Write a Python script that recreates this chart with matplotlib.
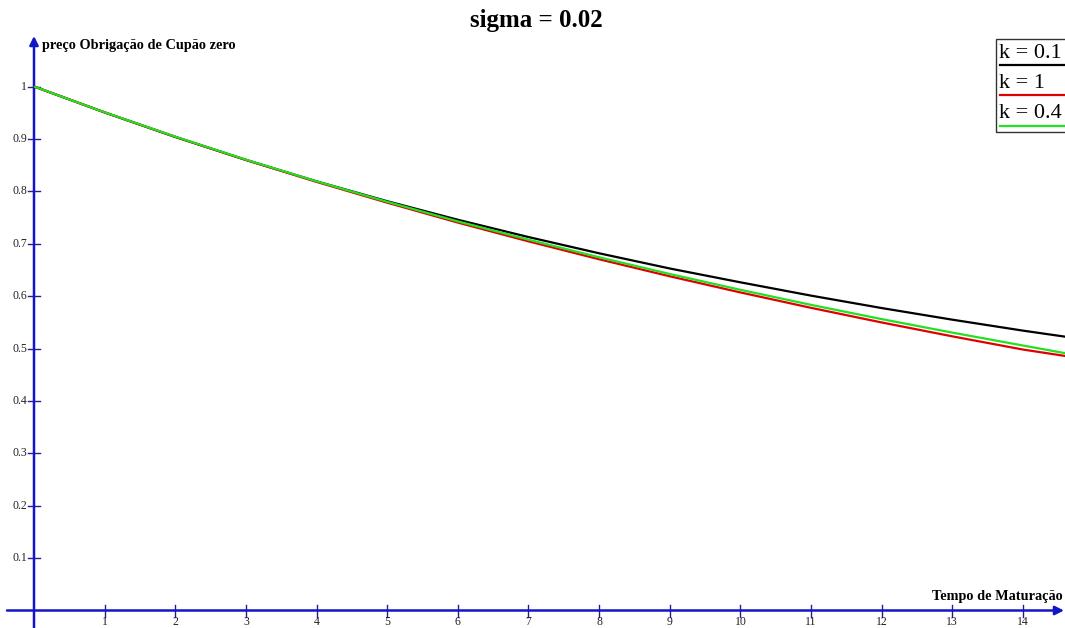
import matplotlib
matplotlib.use("Agg")
import matplotlib.pyplot as plt

# zero-coupon bond prices (Vasicek, sigma = 0.02) against maturity
maturity = [0, 1, 2, 3, 4, 5, 6, 7, 8, 9, 10, 11, 12, 13, 14, 14.6]
price_k01 = [1.0, 0.9505, 0.9037, 0.8599, 0.8190, 0.7811, 0.7457, 0.7127,
             0.6817, 0.6527, 0.6263, 0.6009, 0.5772, 0.5550, 0.5341, 0.5225]
price_k1 = [1.0, 0.9506, 0.9040, 0.8598, 0.8180, 0.7783, 0.7403, 0.7045,
            0.6703, 0.6378, 0.6070, 0.5776, 0.5497, 0.5232, 0.4980, 0.4857]
price_k04 = [1.0, 0.9507, 0.9043, 0.8604, 0.8191, 0.7800, 0.7426, 0.7077,
             0.6741, 0.6422, 0.6120, 0.5833, 0.5561, 0.5303, 0.5057, 0.4910]

series_labels = ["k = 0.1", "k = 1", "k = 0.4"]
series_colors = ["#000000", "#e00000", "#22e022"]

x_ticks = list(range(1, 15))
y_ticks = [0.1, 0.2, 0.3, 0.4, 0.5, 0.6, 0.7, 0.8, 0.9, 1]
y_tick_labels = ["0.1", "0.2", "0.3", "0.4", "0.5", "0.6", "0.7", "0.8", "0.9", "1"]

title = "sigma = 0.02"
x_label = "Tempo de Maturação"
y_label = "preço Obrigação de Cupão zero"

W, H = 1065, 628
X0, Y0 = 34.0, 610.5      # pixel position of the origin
SX, SY = 70.64, 524.0     # pixels per unit
BLUE = "#1515c8"
TICK = "#202090"

plt.rcParams["font.family"] = ["Liberation Serif", "DejaVu Serif"]

fig = plt.figure(figsize=(W / 100, H / 100), dpi=100)
ax = fig.add_axes([0, 0, 1, 1])
ax.set_xlim(-X0 / SX, (W - X0) / SX)
ax.set_ylim(-(H - Y0) / SY, Y0 / SY)
ax.axis("off")

# axes with arrow heads
ax.annotate("", xy=((W - 1 - X0) / SX, 0), xytext=(-27 / SX, 0),
            arrowprops=dict(arrowstyle="-|>", color=BLUE, lw=1.8,
                            mutation_scale=13, shrinkA=0, shrinkB=0))
ax.annotate("", xy=(0, (Y0 - 36) / SY), xytext=(0, -(H - Y0) / SY),
            arrowprops=dict(arrowstyle="-|>", color=BLUE, lw=1.8,
                            mutation_scale=13, shrinkA=0, shrinkB=0))

# tick marks and labels
th_x = 6 / SY
th_y = 6 / SX
for t in x_ticks:
    ax.plot([t, t], [-th_x, th_x], color=TICK, lw=1.0)
    ax.text(t, -11.5 / SY, str(t), ha="center", va="center", fontsize=8.5,
            color="#222222")
for v, lab in zip(y_ticks, y_tick_labels):
    ax.plot([-th_y, th_y], [v, v], color=TICK, lw=1.0)
    ax.text(-7 / SX, v, lab, ha="right", va="center", fontsize=8.5,
            color="#222222")

# curves
for prices, color, z in [(price_k01, series_colors[0], 3),
                         (price_k1, series_colors[1], 4),
                         (price_k04, series_colors[2], 5)]:
    ax.plot(maturity, prices, color=color, lw=1.6, zorder=z,
            solid_capstyle="butt")

ax.text(8 / SX, (Y0 - 46) / SY, y_label, ha="left", va="center",
        fontsize=10.3, fontweight="bold")
ax.text((W - 2 - X0) / SX, 14 / SY, x_label, ha="right", va="center",
        fontsize=10.3, fontweight="bold")

fig.text(536 / W, 1 - 21 / H, title, ha="center", va="center",
         fontsize=18, fontweight="bold")

# legend box with underlined entries
box = plt.Rectangle((996 / W, 1 - 132 / H), 75 / W, 93 / H,
                    transform=fig.transFigure, fill=False,
                    edgecolor="#333333", lw=1.0)
fig.add_artist(box)
for i, (lab, color) in enumerate(zip(series_labels, series_colors)):
    ty = 54 + 30 * i
    ly = 64.5 + 30.5 * i
    fig.text(999 / W, 1 - ty / H, lab, ha="left", va="center", fontsize=16)
    fig.add_artist(plt.Line2D([1000 / W, 1064 / W], [1 - ly / H, 1 - ly / H],
                              transform=fig.transFigure, color=color, lw=1.6))

fig.savefig("out.png", dpi=100)
